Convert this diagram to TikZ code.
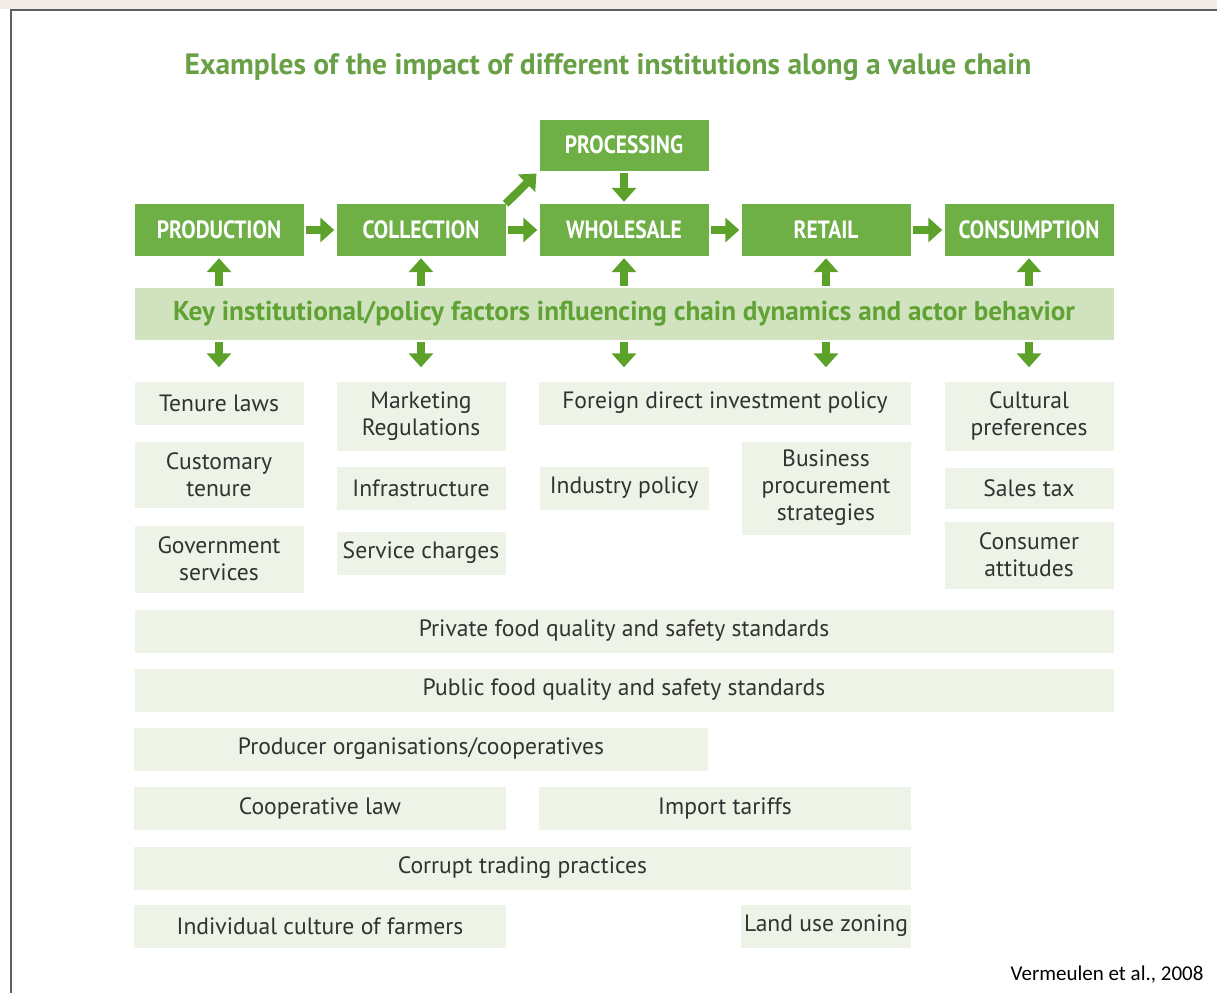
\documentclass[tikz,border=0pt]{standalone}
\usepackage{fontspec}
\setmainfont{PT Sans}
\newfontfamily\headfont[FakeStretch=0.86]{PT Sans}
\newfontfamily\titlefont{PT Sans}
\newfontfamily\bodyfont{PT Sans}
\newfontfamily\notefont{Carlito}
\usetikzlibrary{arrows.meta}
\definecolor{boxgreen}{RGB}{110,175,70}
\definecolor{arrowgreen}{RGB}{92,162,42}
\definecolor{keyfill}{RGB}{208,227,190}
\definecolor{keytext}{RGB}{96,162,52}
\definecolor{titlegreen}{RGB}{104,160,70}
\definecolor{lightbox}{RGB}{237,243,230}
\definecolor{textgray}{RGB}{50,50,50}
\definecolor{framegray}{RGB}{95,95,95}
\definecolor{topstrip}{RGB}{242,236,230}

\begin{document}
\begin{tikzpicture}[
		x=1pt, y=-1pt,
		stage/.style={rectangle, fill=boxgreen, text=white, minimum width=169pt, minimum height=52pt, inner sep=0pt, font=\headfont\bfseries\fontsize{25}{29}\selectfont},
		factor/.style={rectangle, fill=lightbox, text=textgray, minimum width=169pt, minimum height=43pt, inner sep=0pt, align=center, font=\bodyfont\fontsize{23.6}{27}\selectfont},
		flow/.style={draw=arrowgreen, line width=8pt, -{Triangle[width=24pt,length=14pt]}, shorten >=2pt, shorten <=2pt}
	]
  \useasboundingbox (0,0) rectangle (1217,993);
  \fill[topstrip] (0,0) rectangle (1217,9);
  \draw[framegray, line width=2pt] (11,993) -- (11,10) -- (1217,10);

  \node (title) [text=titlegreen, font=\titlefont\bfseries\fontsize{29.5}{34}\selectfont] at (608,67) {Examples of the impact of different institutions along a value chain};

  \node (proc) [stage, minimum height=51pt] at (624,145) {PROCESSING};
  \node (prod) [stage] at (219,230) {PRODUCTION};
  \node (coll) [stage] at (421,230) {COLLECTION};
  \node (whole) [stage] at (624,230) {WHOLESALE};
  \node (retail) [stage] at (826,230) {RETAIL};
  \node (cons) [stage] at (1029,230) {CONSUMPTION};

  \node (key) [rectangle, fill=keyfill, text=keytext, minimum width=979pt, minimum height=52pt, inner sep=0pt, font=\titlefont\bfseries\fontsize{27.2}{32}\selectfont] at (624,314) {Key institutional/policy factors influencing chain dynamics and actor behavior};

  \node (tenure) [factor] at (219,403) {Tenure laws};
  \node (custom) [factor, minimum height=66pt] at (219,475) {Customary\\tenure};
  \node (govt) [factor, minimum height=67pt] at (219,559) {Government\\services};
  \node (market) [factor, minimum height=69pt] at (421,416) {Marketing\\Regulations};
  \node (infra) [factor] at (421,488) {Infrastructure};
  \node (service) [factor] at (421,553) {Service charges};
  \node (foreign) [factor, minimum width=372pt] at (725,403) {Foreign direct investment policy};
  \node (industry) [factor] at (624,488) {Industry policy};
  \node (business) [factor, minimum height=93pt] at (826,488) {Business\\procurement\\strategies};
  \node (culture) [factor, minimum height=69pt] at (1029,416) {Cultural\\preferences};
  \node (sales) [factor, minimum height=41pt] at (1029,488) {Sales tax};
  \node (consumer) [factor, minimum height=67pt] at (1029,555) {Consumer\\attitudes};

  \node (private) [factor, minimum width=979pt] at (624,631) {Private food quality and safety standards};
  \node (public) [factor, minimum width=979pt] at (624,690) {Public food quality and safety standards};
  \node (producer) [factor, minimum width=574pt] at (421,749) {Producer organisations/cooperatives};
  \node (coop) [factor, minimum width=372pt] at (320,808) {Cooperative law};
  \node (import) [factor, minimum width=372pt] at (725,808) {Import tariffs};
  \node (corrupt) [factor, minimum width=777pt] at (522.5,868) {Corrupt trading practices};
  \node (farmers) [factor, minimum width=372pt] at (320,926) {Individual culture of farmers};
  \node (zoning) [factor, minimum width=170pt] at (826,926) {Land use zoning};

  \node (source) [anchor=east, text=black, font=\notefont\fontsize{21}{24}\selectfont] at (1207,975) {Vermeulen et al., 2008};

  \draw[flow] (prod) -- (coll);
  \draw[flow] (coll) -- (whole);
  \draw[flow] (whole) -- (retail);
  \draw[flow] (retail) -- (cons);
  \draw[flow] (proc) -- (whole);
  \draw[flow, shorten <=0pt, shorten >=4pt] (coll.north east) -- (proc.south west);
  \foreach \s in {prod, coll, whole, retail, cons} {
    \draw[flow] (key.north -| \s) -- (\s);
    \draw[flow, shorten >=14pt] (key.south -| \s) -- (tenure.north -| \s);
  }
\end{tikzpicture}
\end{document}
